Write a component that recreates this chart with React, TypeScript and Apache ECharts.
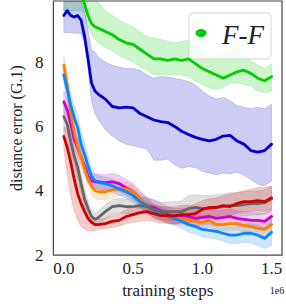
import React, { useEffect, useRef } from "react";
import * as echarts from "echarts";

const steps = [0, 0.025, 0.05, 0.075, 0.1, 0.125, 0.15, 0.175, 0.2, 0.225, 0.25, 0.3, 0.35, 0.4, 0.45, 0.5, 0.55, 0.6, 0.65, 0.7, 0.75, 0.8, 0.85, 0.9, 0.95, 1.0, 1.05, 1.1, 1.15, 1.2, 1.25, 1.3, 1.35, 1.4, 1.45, 1.5];

const greenMean = [11.6, 11.3, 11.0, 10.7, 10.4, 10.1, 9.8, 9.45, 9.2, 9.1, 9.05, 8.95, 8.85, 8.7, 8.6, 8.55, 8.4, 8.25, 8.1, 8.1, 8.05, 8.1, 8.05, 8.1, 7.95, 7.8, 7.7, 7.6, 7.5, 7.6, 7.7, 7.75, 7.65, 7.5, 7.42, 7.55];
const greenLo = [9.6, 9.6, 9.6, 9.6, 9.6, 9.6, 9.5, 9.1, 8.85, 8.72, 8.6, 8.45, 8.35, 8.2, 8.1, 8.0, 7.85, 7.75, 7.6, 7.6, 7.6, 7.6, 7.6, 7.55, 7.4, 7.3, 7.2, 7.15, 7.2, 7.35, 7.35, 7.3, 7.25, 7.1, 7.05, 7.1];
const greenHi = [12.5, 12.2, 11.9, 11.6, 11.3, 11.0, 10.7, 10.4, 10.1, 9.95, 9.85, 9.6, 9.45, 9.3, 9.2, 9.1, 8.95, 8.8, 8.75, 8.7, 8.65, 8.6, 8.65, 8.68, 8.4, 8.3, 8.2, 8.15, 8.25, 8.4, 8.45, 8.2, 8.05, 7.9, 7.8, 7.95];

const blueMean = [9.45, 9.6, 9.45, 9.4, 9.45, 9.3, 8.8, 8.1, 7.35, 7.1, 7.0, 6.85, 6.62, 6.58, 6.6, 6.58, 6.4, 6.3, 6.2, 6.15, 6.12, 6.0, 5.85, 5.75, 5.66, 5.6, 5.55, 5.6, 5.7, 5.72, 5.55, 5.45, 5.25, 5.2, 5.25, 5.45];
const blueLo = [8.92, 8.92, 8.92, 8.9, 8.9, 8.89, 8.6, 7.8, 6.8, 6.4, 6.2, 5.9, 5.7, 5.55, 5.45, 5.4, 5.35, 5.3, 4.95, 4.95, 4.98, 4.8, 4.7, 4.75, 4.72, 4.6, 4.55, 4.5, 4.55, 4.52, 4.58, 4.48, 4.35, 4.2, 4.15, 4.3];
const blueHi = [10.3, 10.3, 10.3, 10.3, 10.2, 10.1, 9.6, 9.0, 8.4, 8.3, 8.15, 8.0, 7.9, 7.85, 7.8, 7.8, 7.75, 7.6, 7.5, 7.55, 7.54, 7.5, 7.45, 7.4, 7.3, 7.1, 6.95, 6.85, 6.9, 6.8, 6.65, 6.6, 6.55, 6.6, 6.55, 6.7];

const magentaMean = [6.77, 6.52, 6.09, 5.6, 5.32, 5.05, 4.77, 4.46, 4.31, 4.28, 4.28, 4.25, 4.28, 4.22, 4.09, 3.97, 3.75, 3.54, 3.48, 3.38, 3.26, 3.2, 3.23, 3.2, 3.14, 3.17, 3.2, 3.14, 3.17, 3.2, 3.14, 3.11, 3.08, 3.08, 3.05, 3.2];
const magentaLo = [6.45, 6.2, 5.78, 5.3, 5.02, 4.77, 4.5, 4.22, 4.08, 4.05, 4.05, 4.02, 4.04, 3.98, 3.85, 3.73, 3.52, 3.3, 3.24, 3.14, 3.02, 2.96, 2.99, 2.96, 2.9, 2.93, 2.96, 2.9, 2.93, 2.96, 2.9, 2.87, 2.84, 2.84, 2.81, 2.96];
const magentaHi = [7.1, 6.85, 6.4, 5.9, 5.62, 5.33, 5.04, 4.7, 4.55, 4.52, 4.52, 4.5, 4.54, 4.48, 4.35, 4.23, 4.0, 3.8, 3.73, 3.63, 3.5, 3.44, 3.47, 3.44, 3.38, 3.41, 3.44, 3.38, 3.41, 3.44, 3.38, 3.35, 3.32, 3.32, 3.29, 3.44];

const orangeMean = [7.91, 7.29, 6.46, 5.82, 5.38, 5.05, 4.68, 4.37, 4.15, 4.0, 3.97, 3.97, 4.03, 4.06, 4.06, 3.97, 3.75, 3.57, 3.35, 3.26, 3.2, 3.14, 3.14, 3.11, 3.05, 3.02, 3.08, 2.95, 2.95, 2.98, 2.98, 2.92, 2.89, 2.83, 2.8, 2.95];
const orangeLo = [7.6, 7.0, 6.2, 5.58, 5.15, 4.82, 4.45, 4.12, 3.9, 3.75, 3.72, 3.73, 3.8, 3.84, 3.84, 3.76, 3.55, 3.37, 3.15, 3.06, 3.0, 2.94, 2.94, 2.9, 2.85, 2.82, 2.88, 2.75, 2.75, 2.78, 2.78, 2.72, 2.69, 2.63, 2.6, 2.75];
const orangeHi = [8.2, 7.6, 6.75, 6.08, 5.62, 5.28, 4.9, 4.58, 4.35, 4.2, 4.17, 4.18, 4.24, 4.27, 4.27, 4.18, 3.96, 3.78, 3.55, 3.46, 3.4, 3.34, 3.34, 3.31, 3.26, 3.23, 3.29, 3.16, 3.16, 3.19, 3.19, 3.13, 3.1, 3.04, 3.01, 3.16];

const lightBlueMean = [7.6, 7.14, 6.68, 6.28, 5.97, 5.45, 5.14, 4.77, 4.46, 4.31, 4.25, 4.22, 4.15, 4.06, 3.97, 3.85, 3.66, 3.54, 3.38, 3.29, 3.2, 3.14, 3.05, 2.95, 2.89, 2.8, 2.77, 2.74, 2.68, 2.62, 2.62, 2.68, 2.68, 2.62, 2.52, 2.71];
const lightBlueLo = [7.3, 6.8, 6.3, 5.9, 5.6, 5.1, 4.8, 4.5, 4.22, 4.1, 4.05, 4.02, 3.95, 3.86, 3.77, 3.64, 3.45, 3.32, 3.16, 3.07, 2.98, 2.92, 2.83, 2.72, 2.66, 2.56, 2.53, 2.5, 2.43, 2.36, 2.35, 2.4, 2.38, 2.3, 2.2, 2.3];
const lightBlueHi = [7.9, 7.5, 7.05, 6.65, 6.35, 5.85, 5.5, 5.1, 4.72, 4.53, 4.46, 4.42, 4.35, 4.26, 4.17, 4.06, 3.87, 3.76, 3.6, 3.51, 3.42, 3.36, 3.27, 3.18, 3.12, 3.04, 3.01, 2.98, 2.93, 2.88, 2.89, 2.96, 2.98, 2.94, 2.85, 3.1];

const grayMean = [6.31, 6.06, 5.54, 5.08, 4.74, 4.22, 3.75, 3.45, 3.2, 3.11, 3.17, 3.35, 3.51, 3.54, 3.51, 3.51, 3.54, 3.51, 3.42, 3.35, 3.35, 3.35, 3.35, 3.45, 3.48, 3.45, 3.45, 3.48, 3.51, 3.54, 3.54, 3.57, 3.6, 3.6, 3.63, 3.75];
const grayLo = [5.95, 5.7, 5.2, 4.75, 4.4, 3.9, 3.45, 3.2, 3.0, 2.92, 2.97, 3.12, 3.28, 3.3, 3.28, 3.28, 3.3, 3.28, 3.18, 3.1, 3.08, 3.07, 3.06, 3.15, 3.17, 3.14, 3.14, 3.16, 3.18, 3.2, 3.2, 3.22, 3.25, 3.25, 3.27, 3.38];
const grayHi = [6.65, 6.4, 5.9, 5.4, 5.05, 4.55, 4.05, 3.7, 3.4, 3.3, 3.38, 3.57, 3.73, 3.77, 3.75, 3.76, 3.8, 3.78, 3.7, 3.64, 3.65, 3.67, 3.68, 3.85, 3.88, 3.85, 3.85, 3.88, 3.91, 3.94, 3.94, 3.97, 4.0, 4.0, 4.03, 4.15];

const redMean = [5.69, 5.35, 4.89, 4.37, 3.91, 3.6, 3.35, 3.14, 3.02, 2.95, 2.95, 2.98, 3.05, 3.08, 3.2, 3.26, 3.32, 3.35, 3.29, 3.23, 3.23, 3.23, 3.26, 3.26, 3.29, 3.42, 3.48, 3.48, 3.54, 3.51, 3.6, 3.66, 3.66, 3.69, 3.66, 3.78];
const redLo = [5.3, 4.5, 3.85, 3.4, 3.1, 2.88, 2.8, 2.75, 2.75, 2.75, 2.8, 2.82, 2.85, 2.9, 2.98, 3.02, 3.05, 3.08, 3.05, 3.0, 2.98, 2.98, 3.0, 3.0, 3.05, 3.15, 3.2, 3.2, 3.25, 3.22, 3.3, 3.35, 3.35, 3.38, 3.35, 3.45];
const redHi = [6.0, 5.9, 5.5, 5.0, 4.5, 4.1, 3.7, 3.4, 3.25, 3.15, 3.12, 3.15, 3.25, 3.28, 3.42, 3.5, 3.6, 3.62, 3.55, 3.5, 3.5, 3.5, 3.55, 3.55, 3.58, 3.7, 3.75, 3.78, 3.85, 3.9, 3.95, 4.0, 4.05, 4.1, 4.1, 4.15];

const xTicks = [0, 0.5, 1.0, 1.5];
const yTicks = [2, 4, 6, 8];
const legendLabel = "F-F";

const FONT = "Liberation Serif";

type Spec = { name: string; mean: number[]; lo: number[]; hi: number[]; color: string; band: string };

const specs: Spec[] = [
  { name: "F-F", mean: greenMean, lo: greenLo, hi: greenHi, color: "#00cc00", band: "rgba(0,204,0,0.2)" },
  { name: "blue", mean: blueMean, lo: blueLo, hi: blueHi, color: "#0000cc", band: "rgba(0,0,204,0.2)" },
  { name: "magenta", mean: magentaMean, lo: magentaLo, hi: magentaHi, color: "#cc00cc", band: "rgba(204,0,204,0.2)" },
  { name: "orange", mean: orangeMean, lo: orangeLo, hi: orangeHi, color: "#ff8000", band: "rgba(255,128,0,0.2)" },
  { name: "lightblue", mean: lightBlueMean, lo: lightBlueLo, hi: lightBlueHi, color: "#0a84ff", band: "rgba(10,132,255,0.2)" },
  { name: "gray", mean: grayMean, lo: grayLo, hi: grayHi, color: "#666666", band: "rgba(102,102,102,0.2)" },
  { name: "red", mean: redMean, lo: redLo, hi: redHi, color: "#cc0000", band: "rgba(204,0,0,0.2)" },
];

function bandSeries(s: Spec, idx: number) {
  return {
    type: "custom",
    name: s.name + "-band",
    data: steps.map((x, i) => [x, s.lo[i], s.hi[i]]),
    encode: { x: 0, y: [1, 2] },
    clip: true,
    silent: true,
    z: 1 + idx * 0.01,
    renderItem: (params: any, api: any) => {
      if (params.dataIndex !== 0) return null;
      const cs = params.coordSys;
      const top = steps.map((x, i) => api.coord([x, s.hi[i]]));
      const bot = steps.map((x, i) => api.coord([x, s.lo[i]])).reverse();
      const pts = top.concat(bot).map((p: number[]) => [p[0], Math.max(cs.y, Math.min(cs.y + cs.height, p[1]))]);
      return {
        type: "polygon",
        shape: { points: pts },
        style: { fill: s.band, stroke: s.band, lineWidth: 0.8 },
        silent: true,
      };
    },
  };
}

function lineSeries(s: Spec, idx: number) {
  return {
    type: "line",
    name: s.name,
    data: steps.map((x, i) => [x, s.mean[i]]),
    showSymbol: false,
    symbol: "none",
    clip: true,
    z: 5 + idx * 0.01,
    lineStyle: { color: s.color, width: 2.8, join: "round", cap: "round" },
    itemStyle: { color: s.color },
  };
}

export default function App() {
  const ref = useRef<HTMLDivElement>(null);
  useEffect(() => {
    if (!ref.current) return;
    const chart = echarts.init(ref.current, undefined, { renderer: "svg" });
    const option: any = {
      animation: false,
      backgroundColor: "#ffffff",
      grid: { left: 38, top: 1, width: 244, height: 256, show: true, borderColor: "#444", borderWidth: 1.2, backgroundColor: "transparent", containLabel: false },
      xAxis: {
        type: "value",
        min: -0.075,
        max: 1.575,
        name: "training steps",
        nameLocation: "middle",
        nameGap: 26,
        nameTextStyle: { fontFamily: FONT, fontSize: 17, color: "#222" },
        axisLine: { show: false },
        axisTick: { show: false },
        splitLine: { show: false },
        axisLabel: {
          customValues: xTicks,
          formatter: (v: number) => v.toFixed(1),
          fontFamily: FONT,
          fontSize: 17,
          color: "#222",
          margin: 5,
        },
      },
      yAxis: {
        type: "value",
        min: 2,
        max: 9.9,
        interval: 2,
        name: "distance error (G.1)",
        nameLocation: "middle",
        nameGap: 25,
        nameTextStyle: { fontFamily: FONT, fontSize: 16, color: "#222" },
        axisLine: { show: false },
        axisTick: { show: false },
        splitLine: { show: false },
        axisLabel: {
          customValues: yTicks,
          fontFamily: FONT,
          fontSize: 17,
          color: "#222",
          margin: 10,
        },
      },
      series: [...specs.map((s, i) => bandSeries(s, i)), ...specs.map((s, i) => lineSeries(s, i))],
      graphic: [
        {
          type: "rect",
          shape: { x: 189, y: 13, width: 82, height: 46, r: 4 },
          style: { fill: "rgba(255,255,255,0.8)", stroke: "#d4d4d4", lineWidth: 1 },
          z: 100,
        },
        {
          type: "ellipse",
          shape: { cx: 201, cy: 33, rx: 5.5, ry: 4 },
          style: { fill: "#00cc00" },
          z: 101,
        },
        {
          type: "text",
          x: 222,
          y: 35,
          style: { text: legendLabel, font: `italic 27px "${FONT}"`, fill: "#222", verticalAlign: "middle" },
          z: 101,
        },
        {
          type: "text",
          x: 277,
          y: 290,
          style: { text: "1e6", font: `10px "${FONT}"`, fill: "#222", align: "center", verticalAlign: "middle" },
          z: 101,
        },
      ],
    };
    chart.setOption(option);
    return () => chart.dispose();
  }, []);
  return <div ref={ref} style={{ position: "fixed", left: 0, top: 0, width: 286, height: 304 }} />;
}
